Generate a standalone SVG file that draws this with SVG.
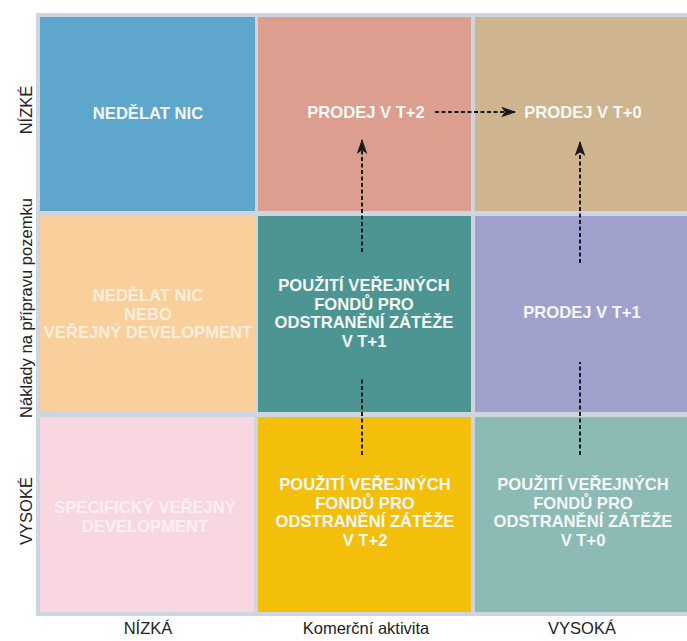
<svg xmlns="http://www.w3.org/2000/svg" width="687" height="641" viewBox="0 0 687 641">
<defs>
<style>
.cell-t{font-family:"Liberation Sans",Arial,sans-serif;font-weight:bold;font-size:16.6px;text-anchor:middle;fill:#f6f8f8}
.faint-peach{fill:#fdeedc}
.faint-pink{fill:#fdf0f4}
.axis{font-family:"Liberation Sans",Arial,sans-serif;font-size:16.5px;text-anchor:middle;fill:#222}
.conn{fill:none;stroke:#1a1a1a;stroke-width:2;stroke-dasharray:4 2.5}
</style>
<marker id="ah" viewBox="0 0 14 10" refX="13" refY="5" markerWidth="15" markerHeight="11" markerUnits="userSpaceOnUse" orient="auto">
<path d="M0,0 L14,5 L0,10 L3.5,5 Z" fill="#1a1a1a"/>
</marker>
</defs>
<rect width="687" height="641" fill="#ffffff"/>
<rect id="frame" x="36" y="13" width="660" height="603" fill="#cdd5e1"/>

<g id="cell-r1c1">
<rect x="40" y="17" width="215" height="194" fill="#5ea6cc"/>
<text class="cell-t" x="148" y="119">NEDĚLAT NIC</text>
</g>
<g id="cell-r1c2">
<rect x="258" y="17" width="213" height="194" fill="#dc9f8f"/>
<text class="cell-t" x="366" y="118">PRODEJ V T+2</text>
</g>
<g id="cell-r1c3">
<rect x="475" y="17" width="212" height="194" fill="#cfb58f"/>
<text class="cell-t" x="583" y="118">PRODEJ V T+0</text>
</g>

<g id="cell-r2c1">
<rect x="40" y="216" width="215" height="196" fill="#f9d09c"/>
<text class="cell-t faint-peach" x="148" y="301">NEDĚLAT NIC</text>
<text class="cell-t faint-peach" x="148" y="319.5">NEBO</text>
<text class="cell-t faint-peach" x="148" y="338">VEŘEJNÝ DEVELOPMENT</text>
</g>
<g id="cell-r2c2">
<rect x="258" y="216" width="213" height="196" fill="#4d9592"/>
<text class="cell-t" x="364" y="291">POUŽITÍ VEŘEJNÝCH</text>
<text class="cell-t" x="364" y="309.5">FONDŮ PRO</text>
<text class="cell-t" x="364" y="328">ODSTRANĚNÍ ZÁTĚŽE</text>
<text class="cell-t" x="364" y="346.5">V T+1</text>
</g>
<g id="cell-r2c3">
<rect x="475" y="216" width="212" height="196" fill="#9fa0cb"/>
<text class="cell-t" x="582" y="318">PRODEJ V T+1</text>
</g>

<g id="cell-r3c1">
<rect x="40" y="417" width="214" height="195" fill="#f9d7e0"/>
<text class="cell-t faint-pink" x="145" y="513">SPECIFICKÝ VEŘEJNÝ</text>
<text class="cell-t faint-pink" x="145" y="531.5">DEVELOPMENT</text>
</g>
<g id="cell-r3c2">
<rect x="258" y="417" width="213" height="195" fill="#f3bf0b"/>
<text class="cell-t" x="365" y="490">POUŽITÍ VEŘEJNÝCH</text>
<text class="cell-t" x="365" y="508.5">FONDŮ PRO</text>
<text class="cell-t" x="365" y="527">ODSTRANĚNÍ ZÁTĚŽE</text>
<text class="cell-t" x="365" y="545.5">V T+2</text>
</g>
<g id="cell-r3c3">
<rect x="475" y="417" width="212" height="195" fill="#8cbab5"/>
<text class="cell-t" x="583" y="490">POUŽITÍ VEŘEJNÝCH</text>
<text class="cell-t" x="583" y="508.5">FONDŮ PRO</text>
<text class="cell-t" x="583" y="527">ODSTRANĚNÍ ZÁTĚŽE</text>
<text class="cell-t" x="583" y="545.5">V T+0</text>
</g>

<g id="connectors">
<path class="conn" d="M362,455 V377 M362,252 V140" marker-end="url(#ah)"/>
<path class="conn" d="M580,455 V362 M580,263 V142" marker-end="url(#ah)"/>
<path class="conn" d="M435,112 H515" marker-end="url(#ah)"/>
</g>

<g id="axes">
<text class="axis" x="32" y="110" transform="rotate(-90 32 110)">NÍZKÉ</text>
<text class="axis" x="32" y="308" transform="rotate(-90 32 308)" textLength="220" lengthAdjust="spacingAndGlyphs">Náklady na přípravu pozemku</text>
<text class="axis" x="32" y="511" transform="rotate(-90 32 511)">VYSOKÉ</text>
<text class="axis" x="148" y="634">NÍZKÁ</text>
<text class="axis" x="366" y="634">Komerční aktivita</text>
<text class="axis" x="582" y="634">VYSOKÁ</text>
</g>
</svg>
